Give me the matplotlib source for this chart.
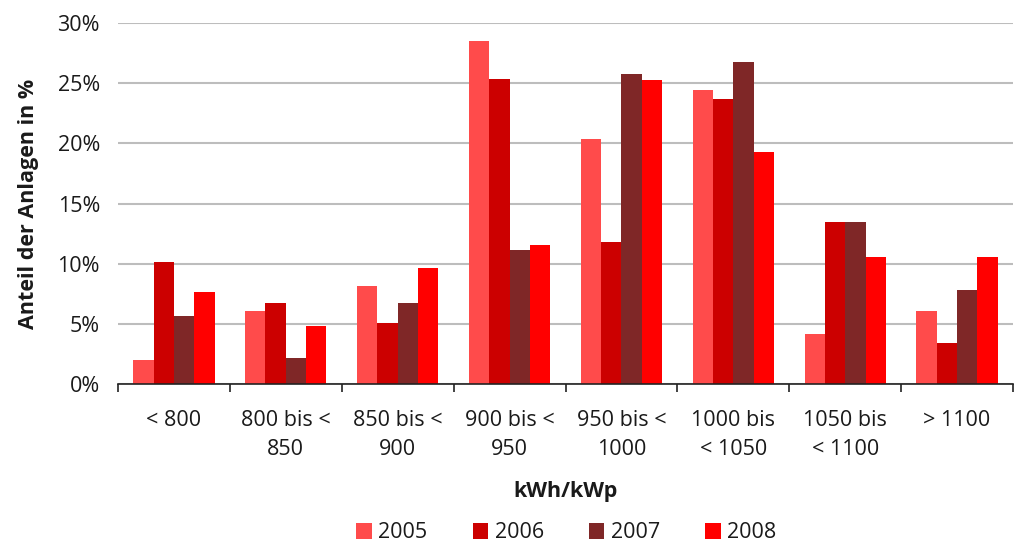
import matplotlib.pyplot as plt
import numpy as np

plt.rcParams['font.family'] = ['Open Sans', 'DejaVu Sans']

kategorien = ['< 800', '800 bis <\n850', '850 bis <\n900', '900 bis <\n950',
              '950 bis <\n1000', '1000 bis\n< 1050', '1050 bis\n< 1100', '> 1100']
jahre = ['2005', '2006', '2007', '2008']
werte_2005 = [2.0, 6.1, 8.15, 28.5, 20.4, 24.45, 4.15, 6.1]
werte_2006 = [10.15, 6.7, 5.1, 25.35, 11.8, 23.7, 13.45, 3.4]
werte_2007 = [5.65, 2.15, 6.7, 11.15, 25.8, 26.8, 13.45, 7.8]
werte_2008 = [7.65, 4.85, 9.65, 11.55, 25.25, 19.3, 10.55, 10.55]
farben = ['#FF4B4B', '#CC0000', '#7F2727', '#FF0000']
textfarbe = '#1A1A1A'

fig = plt.figure(figsize=(10.15, 5.45), dpi=100)
ax = fig.add_axes([118/1015, 1-384/545, 895/1015, 361/545])

x = np.arange(len(kategorien))
breite = 1/5.5
for i, (werte, farbe) in enumerate(zip([werte_2005, werte_2006, werte_2007, werte_2008], farben)):
    ax.bar(x + (i-1.5)*breite, werte, breite, color=farbe, label=jahre[i], zorder=3)

ax.set_xlim(-0.5, len(kategorien)-0.5)
ax.set_ylim(0, 30)
ax.set_yticks(range(0, 31, 5))
ax.set_yticklabels([f'{v}%' for v in range(0, 31, 5)], fontsize=15.5, color=textfarbe)
ax.yaxis.grid(True, color='#BDBDBD', linewidth=1.5, zorder=0)
ax.tick_params(axis='y', length=0, pad=13)

ax.set_xticks(np.arange(-0.5, len(kategorien), 1))
ax.set_xticklabels([])
ax.set_xticks(x, minor=True)
ax.set_xticklabels(kategorien, minor=True, fontsize=15.5, color=textfarbe, linespacing=1.5)
ax.tick_params(axis='x', which='major', length=6, width=1.2, color='#222222', direction='out')
ax.tick_params(axis='x', which='minor', length=0, pad=19)

for s in ['top', 'right', 'left']:
    ax.spines[s].set_visible(False)
ax.spines['bottom'].set_color('#222222')
ax.spines['bottom'].set_linewidth(1.2)
ax.spines['bottom'].set_zorder(4)

ax.set_ylabel('Anteil der Anlagen in %', fontsize=15.5, fontweight='bold', labelpad=13,
              color=textfarbe)
fig.text(0.5 * (118 + 1013) / 1015, 1-492/545, 'kWh/kWp', fontsize=15.5, fontweight='bold',
         ha='center', va='center', color=textfarbe)

leg = fig.legend(loc='center', bbox_to_anchor=(0.558, 1-533/545), ncol=4, frameon=False,
                 fontsize=15.5, handlelength=0.72, handleheight=0.72, columnspacing=2.1,
                 handletextpad=0.3)
for t in leg.get_texts():
    t.set_color(textfarbe)

plt.savefig('out.png', dpi=100)
